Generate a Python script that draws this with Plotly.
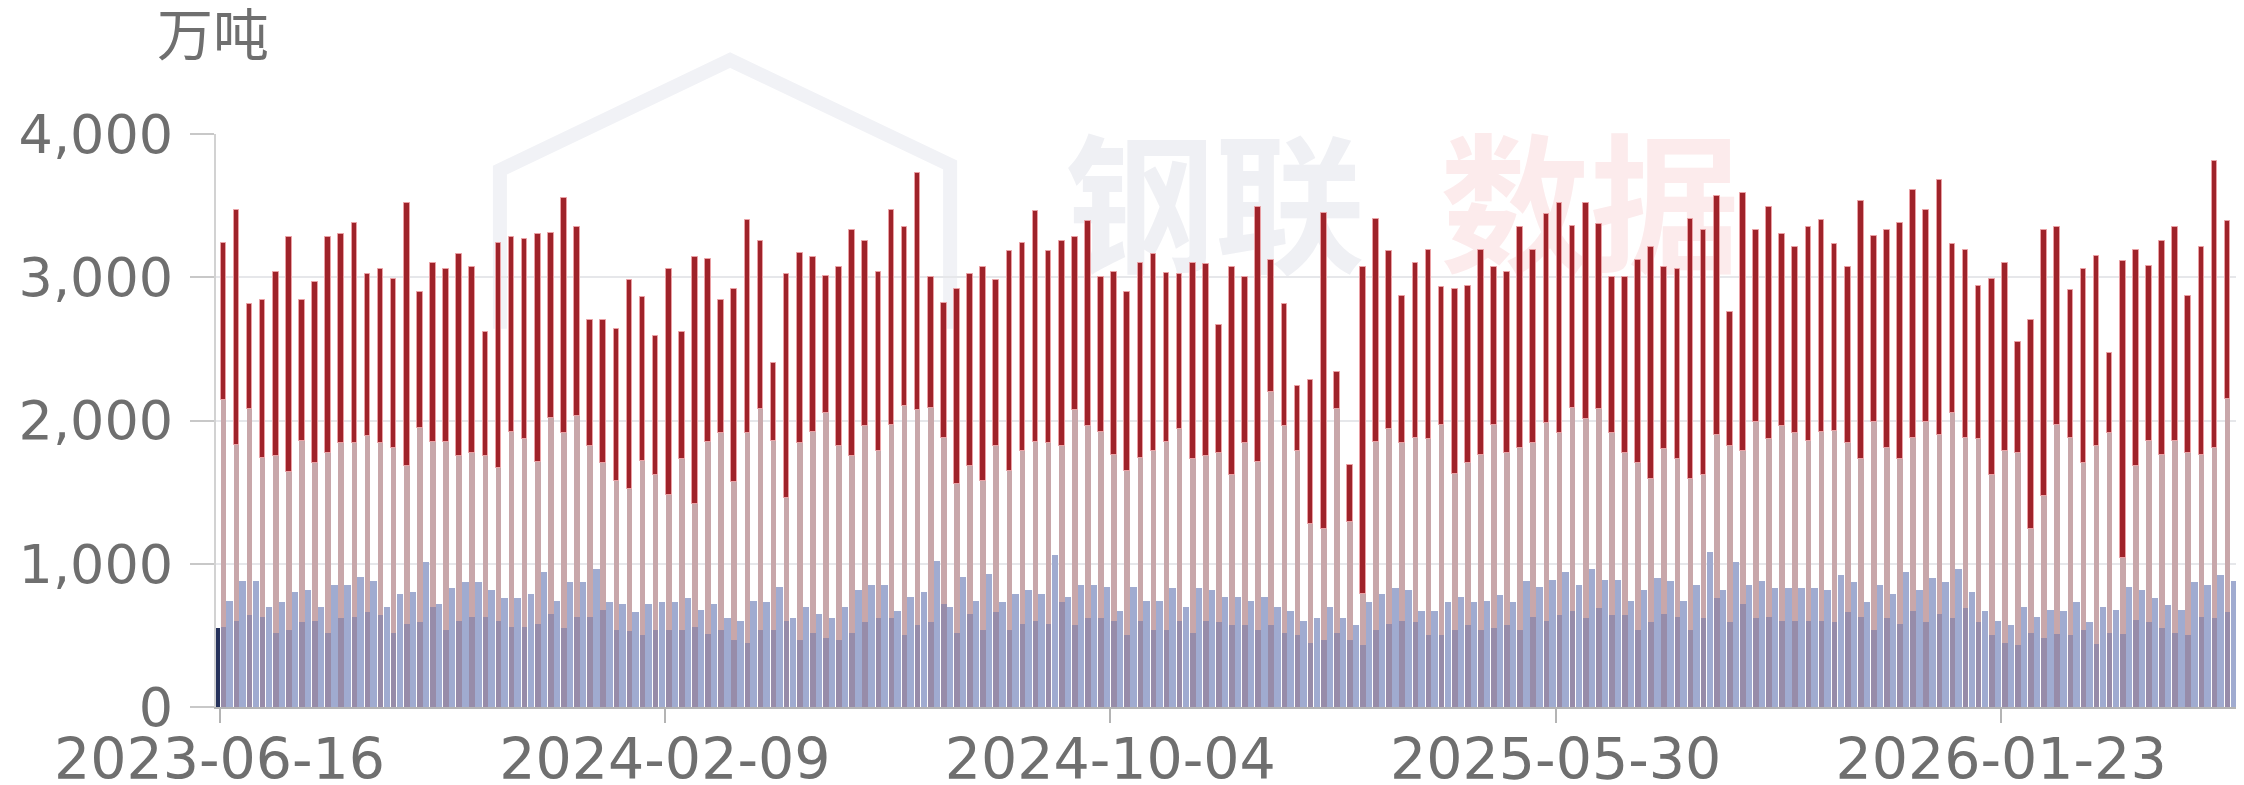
import pandas as pd
import numpy as np
import plotly.graph_objects as go

# ---- data (万吨), weekly from 2023-06-16 ----
start_date = "2023-06-16"
n_weeks = 155
dates = pd.date_range(start_date, periods=n_weeks, freq="7D")

tick_labels = ["2023-06-16", "2024-02-09", "2024-10-04", "2025-05-30", "2026-01-23"]

# left bar (blue series)
blue_series = [
    550, 740, 880, 880, 700, 730, 800, 820, 700, 850,
    850, 910, 880, 700, 790, 800, 1010, 720, 830, 870,
    870, 820, 760, 760, 790, 940, 740, 870, 870, 960,
    730, 720, 660, 720, 730, 730, 760, 680, 720, 620,
    600, 740, 730, 840, 620, 700, 650, 620, 700, 820,
    850, 850, 670, 770, 800, 1020, 700, 910, 740, 930,
    730, 790, 820, 790, 1060, 770, 850, 850, 840, 670,
    840, 740, 740, 830, 700, 830, 820, 770, 770, 740,
    770, 700, 670, 600, 620, 700, 620, 570, 730, 790,
    830, 820, 670, 670, 730, 770, 730, 740, 780, 730,
    880, 840, 890, 940, 850, 960, 890, 890, 740, 820,
    900, 880, 740, 850, 1080, 820, 1010, 850, 880, 830,
    830, 830, 830, 820, 920, 870, 730, 850, 790, 940,
    820, 900, 870, 960, 800, 670, 600, 570, 700, 630,
    680, 670, 730, 590, 700, 680, 840, 820, 760, 710,
    680, 870, 850, 920, 880,
]

# right bar, bottom segment
purple_series = [
    560, 600, 640, 630, 520, 540, 590, 600, 520, 620,
    630, 660, 640, 520, 580, 590, 700, 540, 600, 630,
    630, 600, 560, 560, 580, 650, 550, 630, 630, 680,
    540, 530, 500, 540, 540, 540, 560, 510, 540, 470,
    450, 540, 540, 600, 470, 520, 480, 470, 520, 590,
    620, 620, 500, 570, 590, 720, 520, 650, 540, 660,
    540, 580, 600, 580, 730, 570, 620, 620, 600, 500,
    600, 540, 540, 600, 520, 600, 590, 570, 570, 540,
    570, 520, 500, 450, 470, 520, 470, 430, 540, 580,
    600, 590, 500, 500, 540, 570, 540, 550, 570, 540,
    630, 600, 640, 670, 620, 690, 640, 640, 540, 590,
    650, 630, 540, 620, 760, 590, 720, 620, 630, 600,
    600, 600, 600, 590, 660, 630, 540, 620, 580, 670,
    590, 650, 620, 690, 590, 500, 450, 430, 520, 480,
    510, 500, 540, 440, 520, 510, 610, 590, 550, 520,
    500, 630, 620, 660, 630,
]

# right bar, middle segment
pink_series = [
    1580, 1230, 1440, 1110, 1230, 1100, 1270, 1100, 1250, 1220,
    1210, 1230, 1200, 1290, 1100, 1360, 1150, 1310, 1150, 1140,
    1120, 1070, 1360, 1310, 1130, 1370, 1360, 1400, 1190, 1020,
    1040, 990, 1220, 1080, 940, 1190, 860, 1340, 1370, 1100,
    1460, 1540, 1320, 860, 1370, 1400, 1570, 1350, 1230, 1370,
    1170, 1350, 1600, 1500, 1500, 1160, 1040, 1030, 1040, 1160,
    1110, 1210, 1250, 1260, 1090, 1500, 1340, 1300, 1160, 1150,
    1140, 1250, 1310, 1340, 1210, 1150, 1180, 1050, 1270, 1170,
    1630, 1440, 1290, 830, 770, 1560, 820, 360, 1310, 1360,
    1240, 1290, 1370, 1470, 1090, 1130, 1220, 1420, 1200, 1270,
    1210, 1380, 1270, 1420, 1390, 1390, 1270, 1130, 1160, 1000,
    1150, 1100, 1050, 1000, 1140, 1230, 1070, 1370, 1240, 1360,
    1310, 1260, 1320, 1340, 1180, 1100, 1450, 1190, 1150, 1210,
    1400, 1250, 1430, 1190, 1280, 1120, 1340, 1340, 720, 990,
    1460, 1380, 1160, 1380, 1390, 530, 1070, 1270, 1210, 1340,
    1270, 1130, 1190, 1490, 1230,
]

# right bar, top segment
red_series = [
    1100, 1640, 730, 1100, 1290, 1640, 980, 1270, 1510, 1460,
    1540, 1130, 1220, 1180, 1840, 950, 1250, 1210, 1410, 1300,
    870, 1570, 1360, 1400, 1590, 1290, 1640, 1320, 880, 1000,
    1060, 1460, 1140, 970, 1580, 890, 1720, 1280, 930, 1350,
    1490, 1170, 540, 1560, 1330, 1220, 960, 1250, 1580, 1290,
    1250, 1500, 1250, 1660, 910, 940, 1360, 1340, 1490, 1160,
    1530, 1450, 1610, 1340, 1430, 1210, 1430, 1080, 1280, 1250,
    1360, 1370, 1180, 1080, 1370, 1340, 900, 1450, 1160, 1780,
    920, 850, 450, 1000, 2210, 260, 400, 2280, 1560, 1240,
    1030, 1220, 1320, 960, 1290, 1240, 1430, 1100, 1270, 1540,
    1350, 1460, 1610, 1270, 1510, 1290, 1090, 1230, 1420, 1620,
    1270, 1330, 1820, 1710, 1670, 940, 1800, 1340, 1620, 1340,
    1300, 1490, 1480, 1300, 1230, 1800, 1300, 1520, 1650, 1730,
    1480, 1780, 1180, 1310, 1070, 1370, 1310, 780, 1460, 1860,
    1380, 1030, 1360, 1330, 560, 2070, 1510, 1220, 1490, 1490,
    1100, 1450, 2000, 1240, 1690,
]

# ---- styling ----
WEEK_MS = 7 * 24 * 3600 * 1000
FONT = "DejaVu Sans"
GREY_TXT = "#6f6f6f"

purple = np.array(purple_series)
pink = np.array(pink_series)
red = np.array(red_series)

blue_colors = ["#26325c"] + ["#a0abd0"] * (len(blue_series) - 1)

fig = go.Figure()

fig.add_trace(go.Bar(
    x=dates, y=blue_series, base=0,
    offset=-0.48 * WEEK_MS, width=0.49 * WEEK_MS,
    marker=dict(color=blue_colors, line=dict(width=0)),
    name="系列1", showlegend=False,
))
fig.add_trace(go.Bar(
    x=dates, y=purple, base=0,
    offset=0.08 * WEEK_MS, width=0.43 * WEEK_MS,
    marker=dict(color="#978ca9", line=dict(width=0)),
    name="系列2", showlegend=False,
))
fig.add_trace(go.Bar(
    x=dates, y=pink, base=purple,
    offset=0.08 * WEEK_MS, width=0.43 * WEEK_MS,
    marker=dict(color="#c8a7aa", line=dict(width=0)),
    name="系列3", showlegend=False,
))
fig.add_trace(go.Bar(
    x=dates, y=red, base=purple + pink,
    offset=0.08 * WEEK_MS, width=0.43 * WEEK_MS,
    marker=dict(color="#9f232a", line=dict(width=1, color="#eaa0a4")),
    name="系列4", showlegend=False,
))

d0 = pd.Timestamp(start_date)
x_range = [d0 - pd.Timedelta(days=7 * 0.267), d0 + pd.Timedelta(days=7 * 154.55)]
tick_vals = [pd.Timestamp(t) for t in tick_labels]

fig.update_layout(
    width=2236, height=777, autosize=False,
    margin=dict(l=208, r=0, t=126, b=78, pad=0, autoexpand=False),
    paper_bgcolor="white", plot_bgcolor="white",
    barmode="overlay", bargap=0,
    font=dict(family=FONT, color=GREY_TXT),
    xaxis=dict(
        type="date", range=x_range, automargin=False,
        tickvals=tick_vals, ticktext=tick_labels,
        showgrid=False, zeroline=False,
        showline=True, linecolor="#b4b4b4", linewidth=2,
        ticks="outside", ticklen=14, tickwidth=2, tickcolor="#b4b4b4",
        ticklabelstandoff=-12,
        tickfont=dict(family=FONT, size=57, color=GREY_TXT),
    ),
    yaxis=dict(
        range=[0, 4000], tickvals=[0, 1000, 2000, 3000, 4000],
        tickformat=",", automargin=False,
        showgrid=True, gridcolor="#e6e7ea", gridwidth=2,
        zeroline=False,
        showline=True, linecolor="#d2d2d2", linewidth=2,
        ticks="outside", ticklen=24, tickwidth=2, tickcolor="#c8c8c8",
        ticklabelstandoff=6,
        tickfont=dict(family=FONT, size=54, color=GREY_TXT),
    ),
    annotations=[dict(
        text="万吨", xref="paper", yref="paper",
        x=-0.0015, y=1.181, xanchor="center", yanchor="middle",
        showarrow=False,
        font=dict(family="Noto Sans CJK SC", size=56, color=GREY_TXT),
    )],
    shapes=[
        dict(type="path", xref="paper", yref="paper", layer="below",
             path="M 0.140 0.66 L 0.140 0.937 L 0.2535 1.129 L 0.362 0.946 L 0.362 0.66",
             line=dict(color="#f1f2f6", width=14)),
        dict(type="rect", xref="paper", yref="paper", layer="below",
             x0=0.40, x1=0.585, y0=0.76, y1=0.94,
             line=dict(width=0), fillcolor="rgba(0,0,0,0)",
             label=dict(text="钢联", textposition="middle center",
                        font=dict(family="Noto Sans CJK SC", size=150, weight="bold",
                                  color="#eff0f4"))),
        dict(type="rect", xref="paper", yref="paper", layer="below",
             x0=0.585, x1=0.77, y0=0.76, y1=0.94,
             line=dict(width=0), fillcolor="rgba(0,0,0,0)",
             label=dict(text="数据", textposition="middle center",
                        font=dict(family="Noto Sans CJK SC", size=150, weight="bold",
                                  color="#fcebec"))),
    ],
)

fig.write_html("out.html")
